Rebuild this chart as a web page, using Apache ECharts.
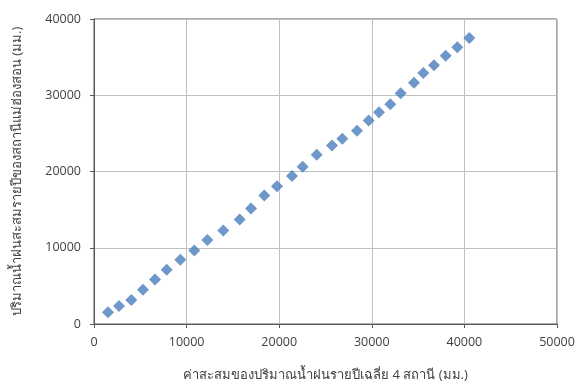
<!DOCTYPE html>
<html><head><meta charset="utf-8">
<script src="https://cdn.jsdelivr.net/npm/echarts@6/dist/echarts.min.js"></script>
<style>html,body{margin:0;padding:0;background:#fff}#c{width:587px;height:387px}</style>
</head><body><div id="c"></div>
<script>
const xValues = [1512,2700,4028,5292,6587,7851,9320,10832,12235,13963,15734,16955,18391,19762,21382,22538,24050,25702,26814,28402,29665,30778,31998,33121,34557,35562,36717,37981,39233,40529];
const yValues = [1531,2355,3140,4488,5849,7105,8413,9643,11030,12260,13699,15138,16839,18056,19404,20633,22203,23420,24297,25344,26691,27777,28824,30263,31624,32932,33926,35195,36281,37511];
const xTitle = 'ค่าสะสมของปริมาณน้ำฝนรายปีเฉลี่ย 4 สถานี (มม.)';
const yTitle = 'ปริมาณน้ำฝนสะสมรายปีของสถานีแม่ฮ่องสอน (มม.)';
const font = '"Open Sans", "Noto Sans", "DejaVu Sans", sans-serif';
const chart = echarts.init(document.getElementById('c'));
const fmt = v => String(v);
chart.setOption({
  animation:false,
  grid:{left:94,top:19,right:30,bottom:62,show:true,borderColor:'#595959',borderWidth:1,backgroundColor:'transparent'},
  xAxis:{type:'value',min:0,max:50000,interval:10000,
    name:xTitle,nameLocation:'middle',nameGap:45,
    nameTextStyle:{fontFamily:font,fontSize:13,color:'#404040'},
    axisLine:{show:true,lineStyle:{color:'#595959'}},
    axisTick:{show:true,length:4,lineStyle:{color:'#595959'}},
    axisLabel:{fontFamily:font,fontSize:12.5,color:'#404040',margin:12,formatter:fmt},
    splitLine:{show:true,lineStyle:{color:'#BFBFBF'}}},
  yAxis:{type:'value',min:0,max:40000,interval:10000,
    name:yTitle,nameLocation:'middle',nameGap:70,nameRotate:90,
    nameTextStyle:{fontFamily:font,fontSize:13,color:'#404040'},
    axisLine:{show:true,lineStyle:{color:'#595959'}},
    axisTick:{show:true,length:4,lineStyle:{color:'#595959'}},
    axisLabel:{fontFamily:font,fontSize:12.5,color:'#404040',margin:13,formatter:fmt},
    splitLine:{show:true,lineStyle:{color:'#BFBFBF'}}},
  series:[{type:'scatter',symbol:'diamond',symbolSize:[12,12],
    itemStyle:{color:'#4A7EBB'},
    data:xValues.map((x,i)=>[x,yValues[i]])}]
});
</script></body></html>
